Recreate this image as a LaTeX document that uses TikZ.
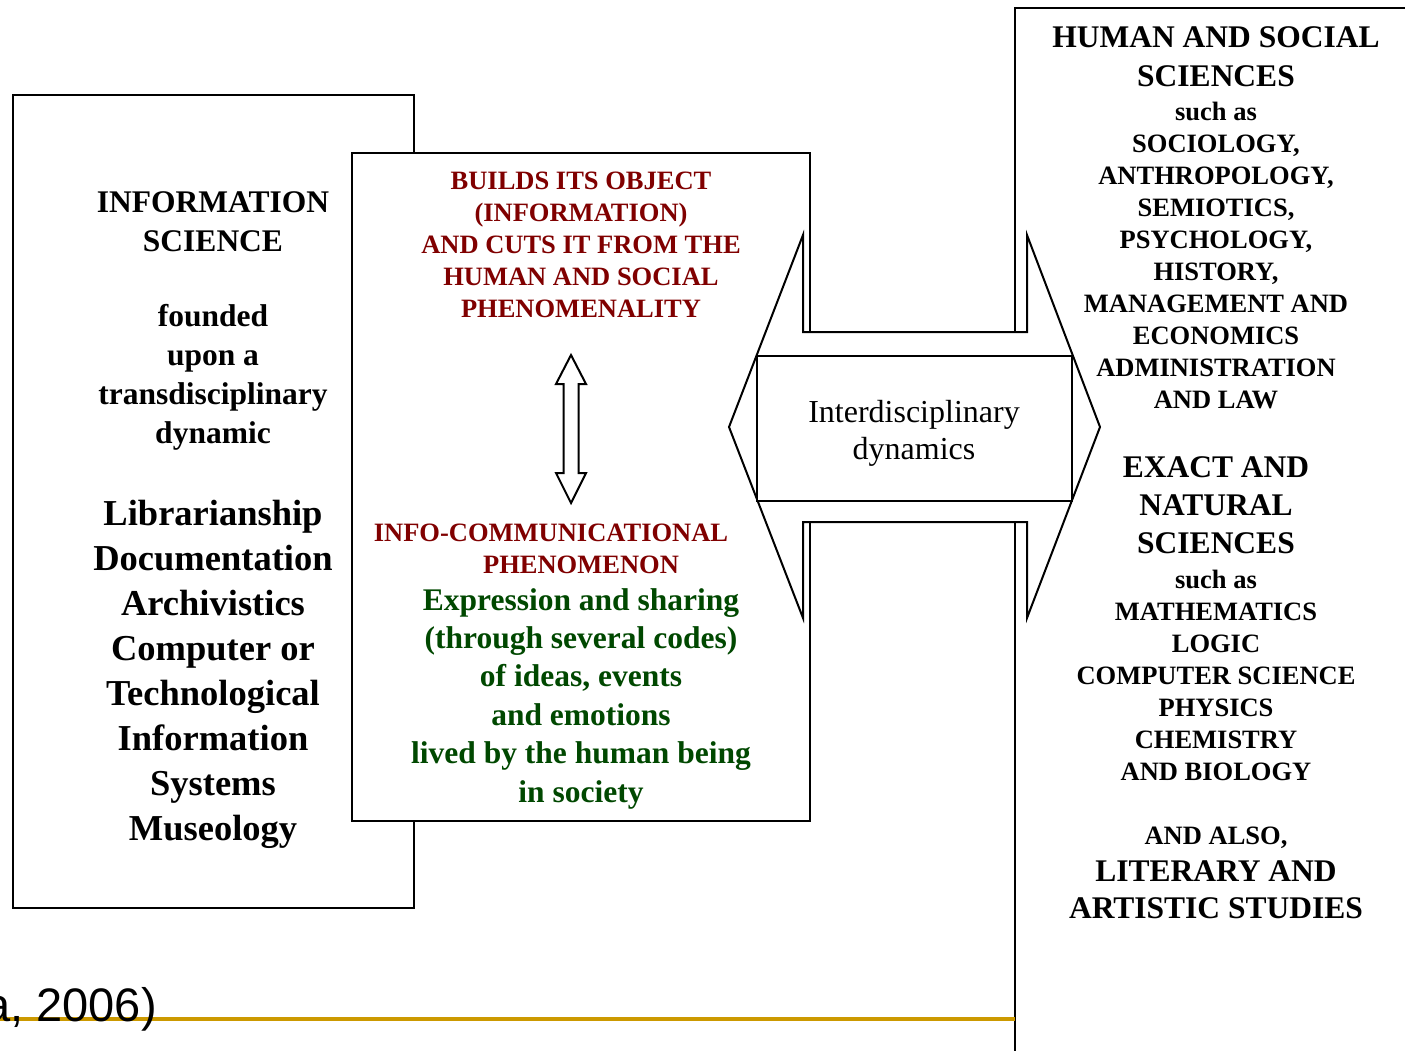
\documentclass[tikz,border=0pt]{standalone}
\usepackage{fontspec}
\setmainfont{Liberation Serif}
\newfontfamily\citefont{Liberation Sans}
\usepackage{tikz}
\usetikzlibrary{positioning}
\definecolor{phenred}{RGB}{128,0,0}
\definecolor{phengreen}{RGB}{0,72,0}
\definecolor{goldline}{RGB}{204,153,0}
\begin{document}
\begin{tikzpicture}
          [x=1pt,y=-1pt,
            outline/.style={draw,line width=2pt,line join=miter},
            every node/.style={inner sep=0pt,align=center,anchor=base},
            title/.style={font=\bfseries\fontsize{31.5}{39}\selectfont},
            listtext/.style={font=\bfseries\fontsize{26.5}{32}\selectfont},
            fieldtext/.style={font=\bfseries\fontsize{36.5}{45}\selectfont}]
          \useasboundingbox (0,0) rectangle (1405,1050);
          % frames
          \draw[outline] (1430,8) -- (1015,8) -- (1015,1070);
          \draw[outline] (13,95) rectangle (414,908);
          \draw[outline,fill=white] (352,153) rectangle (810,821);
          % block arrow with the box on it
          \draw[outline,fill=white] (729,427) -- (803,235) -- (803,332) -- (1027,332)
            -- (1027,235) -- (1100,427) -- (1027,618) -- (1027,522) -- (803,522)
            -- (803,618) -- cycle;
          \draw[outline,fill=white] (757,356) rectangle (1072,501);
          % (base of a node = baseline of its last line)
          \node[font=\fontsize{32}{37}\selectfont] (inter) at (914,459) {Interdisciplinary\\dynamics};
          % small double arrow
          \draw[outline] (571,355) -- (586,384) -- (578.5,384) -- (578.5,473) -- (586,473)
            -- (571,503) -- (556,473) -- (563.5,473) -- (563.5,384) -- (556,384) -- cycle;
          % left column
          \node[title] (infosci) at (213,251.5) {INFORMATION\\SCIENCE};
          \node[title,font=\bfseries\fontsize{31.5}{38.7}\selectfont] (founded) at (213,443)
            {founded\\upon a\\transdisciplinary\\dynamic};
          \node[fieldtext] (fields) at (213,840) {Librarianship\\Documentation\\Archivistics\\Computer or\\Technological\\Information\\Systems\\Museology};
          % middle column
          \node[listtext,text=phenred] (object) at (581,317)
            {BUILDS ITS OBJECT\\(INFORMATION)\\AND CUTS IT FROM THE\\HUMAN AND SOCIAL\\PHENOMENALITY};
          \node[listtext,text=phenred] (infocom) at (551,541) {INFO-COMMUNICATIONAL};
          \node[listtext,text=phenred] (phenom) at (581,573) {PHENOMENON};
          \node[title,text=phengreen,font=\bfseries\fontsize{31.5}{38.4}\selectfont] (sharing) at (581,802)
            {Expression and sharing\\(through several codes)\\of ideas, events\\and emotions\\lived by the human being\\in society};
          % right column
          \node[title] (hss) at (1216,86) {HUMAN AND SOCIAL\\SCIENCES};
          \node[listtext] (hsslist) at (1216,408)
            {such as\\SOCIOLOGY,\\ANTHROPOLOGY,\\SEMIOTICS,\\PSYCHOLOGY,\\HISTORY,\\MANAGEMENT AND\\ECONOMICS\\ADMINISTRATION\\AND LAW};
          \node[title,font=\bfseries\fontsize{31.5}{38}\selectfont] (ens) at (1216,553) {EXACT AND\\NATURAL\\SCIENCES};
          \node[listtext] (enslist) at (1216,780)
            {such as\\MATHEMATICS\\LOGIC\\COMPUTER SCIENCE\\PHYSICS\\CHEMISTRY\\AND BIOLOGY};
          \node[listtext] (also) at (1216,844) {AND ALSO,};
          \node[title,font=\bfseries\fontsize{31.5}{37}\selectfont] (lit) at (1216,918) {LITERARY AND\\ARTISTIC STUDIES};
          % footer
          \draw[goldline,line width=4.5pt] (0,1019) -- (1015,1019);
          \node[font=\citefont\fontsize{47}{56}\selectfont,anchor=base east] (cite) at (157,1021) {a, 2006)};
        \end{tikzpicture}
\end{document}
